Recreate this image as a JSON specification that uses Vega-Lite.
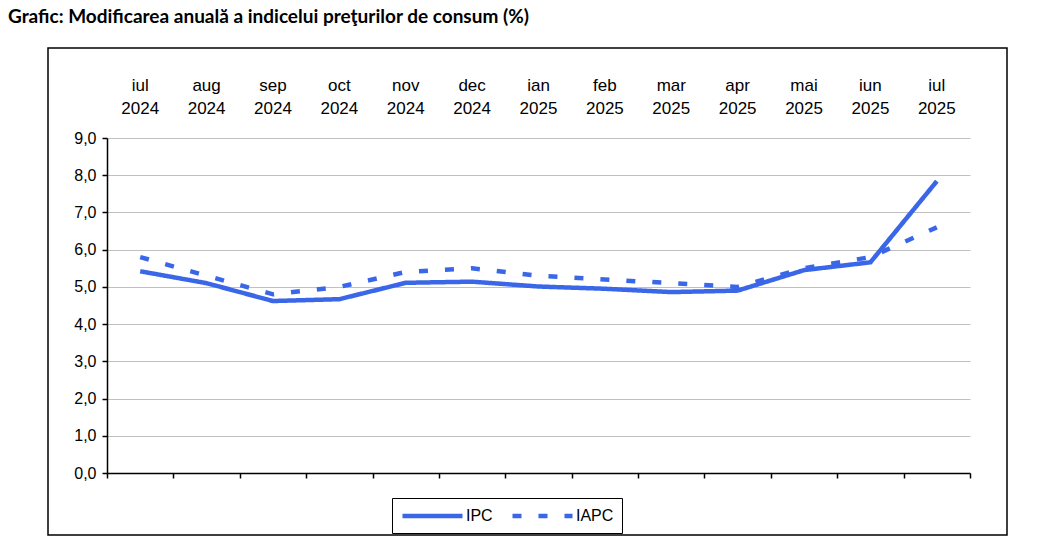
{
  "$schema": "https://vega.github.io/schema/vega-lite/v6.json",
  "width": 959,
  "height": 487,
  "autosize": {"type": "none"},
  "padding": {"left": 48, "top": 48, "right": 30, "bottom": 9},
  "background": "white",
  "title": {
    "text": "Grafic: Modificarea anuală a indicelui preţurilor de consum (%)",
    "anchor": "start",
    "dx": -40,
    "offset": 21,
    "font": "Lato",
    "fontSize": 19,
    "fontWeight": "bold",
    "color": "black"
  },
  "config": {
    "view": {"stroke": "black", "strokeWidth": 1.5},
    "font": "Liberation Sans",
    "axis": {"labelColor": "black", "labelFont": "Liberation Sans"},
    "legend": {"labelColor": "black", "labelFont": "Liberation Sans"}
  },
  "data": {
    "values": [
      {"month": "iul 2024", "series": "IPC", "value": 5.42},
      {"month": "aug 2024", "series": "IPC", "value": 5.10},
      {"month": "sep 2024", "series": "IPC", "value": 4.62},
      {"month": "oct 2024", "series": "IPC", "value": 4.67},
      {"month": "nov 2024", "series": "IPC", "value": 5.11},
      {"month": "dec 2024", "series": "IPC", "value": 5.14},
      {"month": "ian 2025", "series": "IPC", "value": 5.01},
      {"month": "feb 2025", "series": "IPC", "value": 4.95},
      {"month": "mar 2025", "series": "IPC", "value": 4.86},
      {"month": "apr 2025", "series": "IPC", "value": 4.90},
      {"month": "mai 2025", "series": "IPC", "value": 5.45},
      {"month": "iun 2025", "series": "IPC", "value": 5.66},
      {"month": "iul 2025", "series": "IPC", "value": 7.84},
      {"month": "iul 2024", "series": "IAPC", "value": 5.8},
      {"month": "aug 2024", "series": "IAPC", "value": 5.3},
      {"month": "sep 2024", "series": "IAPC", "value": 4.8},
      {"month": "oct 2024", "series": "IAPC", "value": 5.0},
      {"month": "nov 2024", "series": "IAPC", "value": 5.4},
      {"month": "dec 2024", "series": "IAPC", "value": 5.5},
      {"month": "ian 2025", "series": "IAPC", "value": 5.3},
      {"month": "feb 2025", "series": "IAPC", "value": 5.2},
      {"month": "mar 2025", "series": "IAPC", "value": 5.1},
      {"month": "apr 2025", "series": "IAPC", "value": 5.0},
      {"month": "mai 2025", "series": "IAPC", "value": 5.5},
      {"month": "iun 2025", "series": "IAPC", "value": 5.8},
      {"month": "iul 2025", "series": "IAPC", "value": 6.6}
    ]
  },
  "resolve": {"axis": {"x": "independent"}},
  "layer": [
    {
      "mark": {"type": "point", "opacity": 0},
      "encoding": {
        "x": {
          "field": "month", "type": "ordinal", "sort": null,
          "scale": {"range": [59, 922], "paddingInner": 0, "paddingOuter": 0},
          "axis": {
            "orient": "bottom", "offset": -62, "labels": false, "title": null,
            "tickBand": "extent", "tickSize": 5, "tickColor": "black", "tickWidth": 1.5,
            "domainColor": "black", "domainWidth": 1.5, "grid": false
          }
        }
      }
    },
    {
      "mark": {"type": "line", "strokeWidth": 4.5, "strokeCap": "butt"},
      "encoding": {
        "x": {
          "field": "month", "type": "ordinal", "sort": null,
          "axis": {
            "orient": "top", "offset": -46, "ticks": false, "domain": false,
            "labelAngle": 0, "labelExpr": "split(datum.label, ' ')",
            "labelFontSize": 17, "labelLineHeight": 23, "labelPadding": 0,
            "title": null, "grid": false
          }
        },
        "y": {
          "field": "value", "type": "quantitative",
          "scale": {"domain": [0, 9], "range": [425, 90], "nice": false},
          "axis": {
            "values": [0, 1, 2, 3, 4, 5, 6, 7, 8, 9],
            "offset": -59, "title": null,
            "labelExpr": "replace(format(datum.value, '.1f'), '.', ',')",
            "grid": true, "gridColor": "#c0c0c0", "gridWidth": 1,
            "domainColor": "black", "domainWidth": 1.5,
            "tickColor": "black", "tickWidth": 1.5, "tickSize": 5,
            "labelFontSize": 16, "labelPadding": 6
          }
        },
        "color": {
          "field": "series", "type": "nominal",
          "scale": {"domain": ["IPC", "IAPC"], "range": ["#3A66E8", "#3A66E8"]},
          "legend": {
            "orient": "none", "legendX": 344, "legendY": 450,
            "direction": "horizontal", "title": null,
            "symbolType": "M-1,0H7", "symbolSize": 225, "symbolStrokeWidth": 4.5,
            "labelFontSize": 16, "labelOffset": 46, "columnPadding": 10,
            "strokeColor": "black", "fillColor": "white", "padding": 8
          }
        },
        "strokeDash": {
          "field": "series", "type": "nominal",
          "scale": {"domain": ["IPC", "IAPC"], "range": [[1, 0], [9, 17]]}
        }
      }
    }
  ]
}
